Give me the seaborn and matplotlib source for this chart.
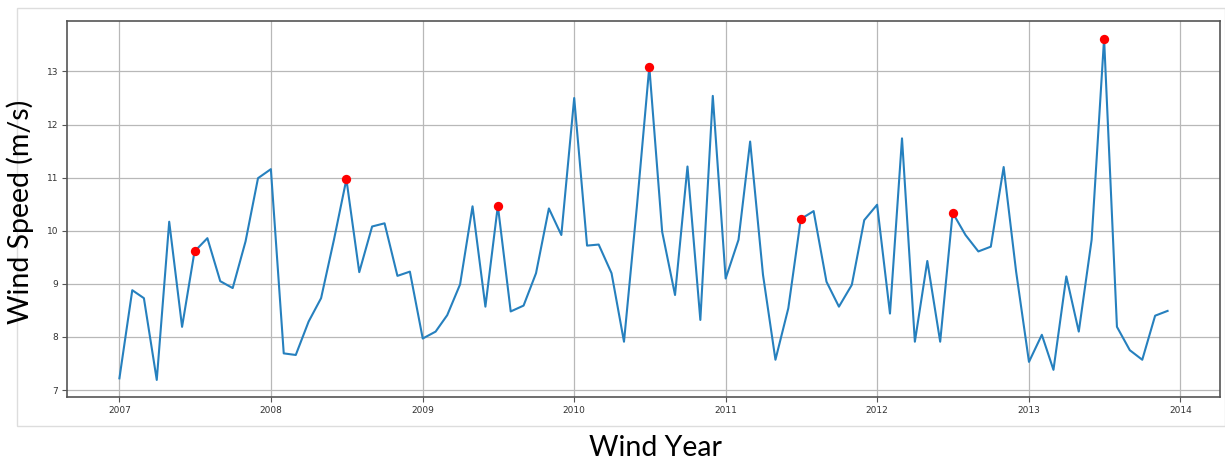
import matplotlib
matplotlib.use("Agg")
import matplotlib.pyplot as plt
import numpy as np
import pandas as pd
import seaborn as sns
from matplotlib.patches import Rectangle

# Monthly mean wind speed (m/s), Jan 2007 .. Dec 2013
speed_2007 = [7.22, 8.88, 8.73, 7.19, 10.17, 8.19, 9.61, 9.86, 9.05, 8.92, 9.80, 10.99]
speed_2008 = [11.16, 7.69, 7.66, 8.29, 8.73, 9.83, 10.97, 9.22, 10.08, 10.14, 9.15, 9.23]
speed_2009 = [7.97, 8.10, 8.41, 8.99, 10.46, 8.57, 10.47, 8.48, 8.59, 9.20, 10.42, 9.92]
speed_2010 = [12.50, 9.72, 9.74, 9.20, 7.91, 10.45, 13.09, 9.98, 8.79, 11.21, 8.32, 12.54]
speed_2011 = [9.10, 9.83, 11.68, 9.17, 7.57, 8.54, 10.22, 10.37, 9.04, 8.57, 8.98, 10.20]
speed_2012 = [10.49, 8.44, 11.74, 7.91, 9.43, 7.91, 10.34, 9.92, 9.61, 9.70, 11.20, 9.23]
speed_2013 = [7.53, 8.04, 7.38, 9.14, 8.10, 9.83, 13.62, 8.19, 7.75, 7.57, 8.40, 8.49]

speeds = (speed_2007 + speed_2008 + speed_2009 + speed_2010
          + speed_2011 + speed_2012 + speed_2013)
months = pd.date_range("2007-01-01", periods=len(speeds), freq="MS")
highlight_month = 7  # July values marked in red

df = pd.DataFrame({"month": months, "speed": speeds})
july = df[df["month"].dt.month == highlight_month]

fig = plt.figure(figsize=(12.25, 4.62), dpi=100)
ax = fig.add_axes([0.0547, 0.1407, 0.9412, 0.8128])

sns.lineplot(data=df, x="month", y="speed", ax=ax, color="#2680be", linewidth=1.5)
sns.scatterplot(data=july, x="month", y="speed", ax=ax, color="red", s=45,
                linewidth=0, zorder=3)

ax.grid(True, color="#b8b8b8", linewidth=0.9)
ax.set_axisbelow(True)
for side in ax.spines.values():
    side.set_color("#555555")
    side.set_linewidth(1.2)
ax.tick_params(labelsize=6.5, labelcolor="#333333", color="#555555", length=3.5, pad=3)
ax.set_yticks(np.arange(7, 14, 1))
ax.set_xlabel("")
ax.set_ylabel("")

# outer frame of the embedded figure
fig.patches.append(Rectangle((17 / 1225, 1 - 426 / 462), 1 - 17 / 1225, (426 - 8) / 462,
                             transform=fig.transFigure, fill=False,
                             edgecolor="#dddddd", linewidth=1, zorder=-1))

label_font = ["Lato", "DejaVu Sans"]
fig.text(20 / 1225, 1 - 212 / 462, "Wind Speed (m/s)", rotation=90, ha="center",
         va="center", fontsize=20.5, family=label_font)
fig.text(655 / 1225, 1 - 448 / 462, "Wind Year", ha="center", va="center",
         fontsize=20.5, family=label_font)

fig.savefig("out.png", dpi=100)
